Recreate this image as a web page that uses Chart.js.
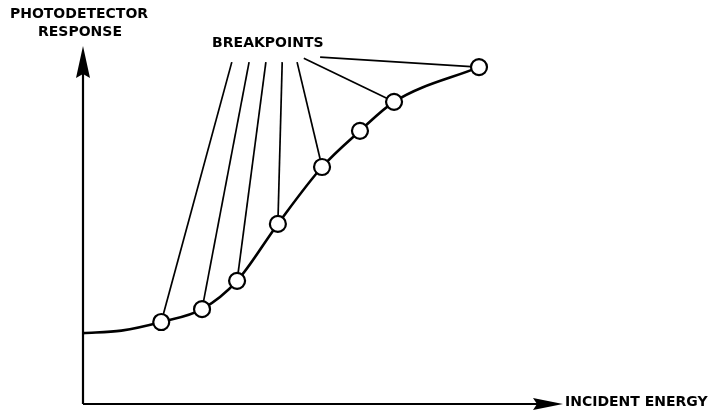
<!DOCTYPE html>
<html>
<head>
<meta charset="utf-8">
<script src="https://cdn.jsdelivr.net/npm/chart.js@4"></script>
<style>
  html, body { margin: 0; padding: 0; background: #fff; }
</style>
</head>
<body>
<canvas id="responseChart" width="715" height="410"></canvas>
<script>
// curve (energy 0-100, response 0-100)
const energy   = [0, 8, 16.3, 24.8, 32.1, 40.6, 49.8, 57.7, 64.8, 82.5];
const response = [19.8, 20.5, 22.9, 26.5, 34.4, 50.3, 66.2, 76.3, 84.4, 94.1];
const breakpoint = [false, false, true, true, true, true, true, true, true, true];

// leader lines from the "BREAKPOINTS" label down to the circles
const leaderX = [31.0, 34.6, 38.1, 41.5, 44.6, 46.0, 49.4];
const leaderY = [95.5, 95.5, 95.5, 95.5, 95.5, 96.6, 96.9];
const leaderTo = [2, 3, 4, 5, 6, 8, 9];

const yTitle = ["PHOTODETECTOR", "RESPONSE"];
const xTitle = "INCIDENT ENERGY";
const noteText = "BREAKPOINTS";
const notePos = { x: 26.9, y: 100.6 };

const curve = energy.map((e, i) => ({ x: e, y: response[i] }));

const leaders = leaderX.map((lx, i) => ({
    data: [{ x: lx, y: leaderY[i] }, curve[leaderTo[i]]],
    borderColor: "#000",
    borderWidth: 1.7,
    pointRadius: 0,
    tension: 0,
    clip: false,
    order: 2
}));

const FONT = "bold 14px 'DejaVu Sans'";

const diagramPlugin = {
    id: "diagram",
    beforeDatasetsDraw(chart) {
        const { ctx, scales: { x, y } } = chart;
        const x0 = x.getPixelForValue(0), y0 = y.getPixelForValue(0);
        const xEnd = x.getPixelForValue(100), yEnd = y.getPixelForValue(100);
        ctx.save();
        ctx.strokeStyle = "#000";
        ctx.fillStyle = "#000";
        ctx.lineWidth = 2.2;
        ctx.beginPath();
        ctx.moveTo(x0, y0);
        ctx.lineTo(x0, yEnd + 20);
        ctx.moveTo(x0, y0);
        ctx.lineTo(xEnd - 20, y0);
        ctx.stroke();

        // arrowheads
        ctx.beginPath();
        ctx.moveTo(x0, yEnd);
        ctx.lineTo(x0 - 7, yEnd + 32);
        ctx.lineTo(x0, yEnd + 28);
        ctx.lineTo(x0 + 7, yEnd + 32);
        ctx.closePath();
        ctx.fill();
        ctx.beginPath();
        ctx.moveTo(xEnd, y0);
        ctx.lineTo(xEnd - 30, y0 - 6);
        ctx.lineTo(xEnd - 26, y0);
        ctx.lineTo(xEnd - 30, y0 + 6);
        ctx.closePath();
        ctx.fill();

        // texts
        ctx.font = FONT;
        ctx.textBaseline = "middle";
        ctx.textAlign = "center";
        ctx.fillText(yTitle[0], x0 - 4, yEnd - 32);
        ctx.fillText(yTitle[1], x0 - 3, yEnd - 14);
        ctx.textAlign = "left";
        ctx.fillText(xTitle, xEnd + 2, y0 - 2);
        ctx.fillText(noteText, x.getPixelForValue(notePos.x), y.getPixelForValue(notePos.y));
        ctx.restore();
    }
};

new Chart(document.getElementById("responseChart").getContext("2d"), {
    type: "line",
    data: {
        datasets: [{
            data: curve,
            borderColor: "#000",
            borderWidth: 2.6,
            cubicInterpolationMode: "monotone",
            pointRadius: breakpoint.map(b => b ? 8 : 0),
            pointBackgroundColor: "#fff",
            pointBorderColor: "#000",
            pointBorderWidth: 2.2,
            clip: false,
            order: 1
        }, ...leaders]
    },
    options: {
        responsive: false,
        animation: false,
        layout: { autoPadding: false, padding: { left: 83, right: 152, top: 46, bottom: 6 } },
        plugins: {
            legend: { display: false },
            tooltip: { enabled: false }
        },
        scales: {
            x: { type: "linear", min: 0, max: 100, display: false },
            y: { type: "linear", min: 0, max: 100, display: false }
        }
    },
    plugins: [diagramPlugin]
});
</script>
</body>
</html>
